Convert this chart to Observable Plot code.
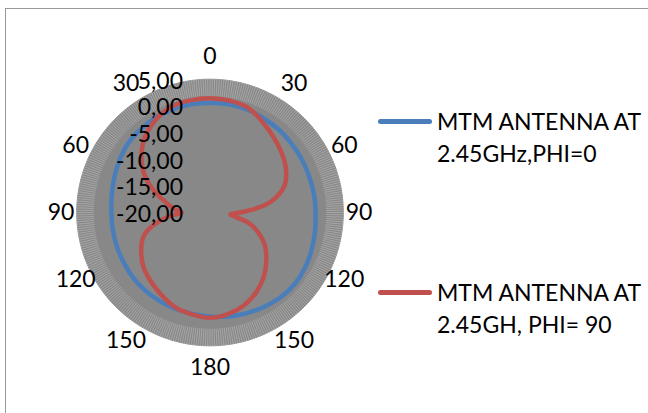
<!DOCTYPE html>
<html>
<head>
<meta charset="utf-8">
<script src="https://cdn.jsdelivr.net/npm/d3@7"></script>
<script src="https://cdn.jsdelivr.net/npm/@observablehq/plot@0.6"></script>
<style>
  html, body { margin: 0; padding: 0; background: #fff; }
  #wrap { position: relative; width: 648px; height: 413px; overflow: hidden; font-family: Lato, "Open Sans", sans-serif; }
  #frame { position: absolute; left: 5px; top: 8px; width: 700px; height: 500px; border: 1px solid #999; }
  #chart { position: absolute; left: 0; top: 0; }
  .leg { position: absolute; left: 378px; font-size: 23px; color: #000; }
  .leg .sw { position: absolute; left: 0; width: 54px; height: 5px; border-radius: 3px; }
  .leg .tx { position: absolute; left: 59px; line-height: 32px; white-space: nowrap; }
</style>
</head>
<body>
<div id="wrap">
  <div id="frame"></div>
  <div id="chart"></div>
  <div id="legend"></div>
</div>
<script>
// ---- data ----
const seriesNames = ["MTM ANTENNA AT\n2.45GHz,PHI=0", "MTM ANTENNA AT\n2.45GH, PHI= 90"];
const seriesColors = ["#4A7EBB", "#C0504D"];

const blueAngles = [0,10,20,30,40,50,60,70,80,90,100,110,120,130,140,150,160,170,180,190,200,210,220,230,240,250,260,270,280,290,300,310,320,330,340,350];
const blueDb = [0.6,0.6,0.5,0.3,0.2,0.0,-0.1,-0.2,-0.2,-0.2,0.0,0.3,0.6,0.8,0.7,0.4,0.1,-0.2,-0.5,-0.7,-0.8,-0.9,-1.0,-1.1,-1.3,-1.4,-1.5,-1.5,-1.3,-0.9,-0.4,0.1,0.3,0.5,0.6,0.6];

const redAngles = [0,10,20,30,40,50,60,70,80,85,90,95,100,105,110,120,130,140,150,160,170,180,190,200,210,220,230,240,250,255,260,265,270,275,280,285,290,300,310,320,330,340,350];
const redDb = [1.45,1.3,0.9,-0.35,-1.5,-2.5,-3.55,-5.1,-8.4,-11.4,-14.3,-16.2,-15.0,-12.6,-10.9,-8.2,-6.2,-4.3,-2.7,-1.45,-0.65,-0.25,-0.6,-1.05,-2.0,-2.9,-3.8,-5.1,-6.7,-8.2,-10.2,-12.5,-14.7,-13.4,-12.2,-10.9,-9.1,-5.8,-3.2,-1.2,0.22,1.1,1.35];

const radialTicks = [5, 0, -5, -10, -15, -20];
const angleTickAngles = [0,30,60,90,120,150,180,210,240,270,300,330];
const angleTickLabels = ["0","30","60","90","120","150","180","150","120","90","60","30"];

// ---- geometry helpers ----
const rMin = -20, rMax = 5;
const U = rMax - rMin; // outer radius in units
const rad = a => a * Math.PI / 180;
const px = (a, db) => (db - rMin) * Math.sin(rad(a));
const py = (a, db) => (db - rMin) * Math.cos(rad(a));

const blue = blueAngles.map((a, i) => ({a, db: blueDb[i]}));
const red = redAngles.map((a, i) => ({a, db: redDb[i]}));
const rim = d3.range(0, 360, 1).map(a => ({a, db: rMax}));
const spokes = d3.range(0, 360, 1).map(a => ({a}));
const angTicks = angleTickAngles.map((a, i) => ({a, label: angleTickLabels[i]}));

const cx = 209.5, cy = 212, R = 133.3;
// label placement (Excel-like: labels sit just outside the rim)
const shift = a => a + 5 * Math.sin(rad(2 * a));
const labelX = a => 149 / R * U * Math.sin(rad(shift(a)));
const labelY = a => 155.5 / R * U * Math.cos(rad(shift(a)));

const fmt = v => v.toFixed(2).replace(".", ",");

const plot = Plot.plot({
  width: 648,
  height: 413,
  margin: 0,
  x: {type: "linear", domain: [-U, U], range: [cx - R, cx + R], axis: null},
  y: {type: "linear", domain: [-U, U], range: [cy + R, cy - R], axis: null},
  style: {fontFamily: "Lato, 'Open Sans', sans-serif", fontSize: "23px", color: "#000", background: "transparent"},
  marks: [
    Plot.line(rim, {x: d => px(d.a, d.db), y: d => py(d.a, d.db), curve: "linear-closed", fill: "#888888", stroke: "#8f8f8f", strokeWidth: 1}),
    Plot.link(spokes, {
      x1: d => px(d.a, 1.8), y1: d => py(d.a, 1.8),
      x2: d => px(d.a, rMax), y2: d => py(d.a, rMax),
      stroke: "#ffffff", strokeOpacity: 0.36, strokeWidth: 0.7
    }),
    Plot.line(blue, {x: d => px(d.a, d.db), y: d => py(d.a, d.db), curve: "catmull-rom-closed", stroke: seriesColors[0], strokeWidth: 4.5}),
    Plot.line(red, {x: d => px(d.a, d.db), y: d => py(d.a, d.db), curve: "catmull-rom-closed", stroke: seriesColors[1], strokeWidth: 4.5, strokeLinejoin: "round"}),
    Plot.text(radialTicks, {x: 0, y: d => d - rMin, text: d => fmt(d), textAnchor: "end", dx: -27, dy: 2, fill: "#000", fontSize: 23}),
    Plot.text(angTicks, {
      x: d => labelX(d.a),
      y: d => labelY(d.a),
      text: "label", textAnchor: "middle", fill: "#000", fontSize: 23
    })
  ]
});
document.getElementById("chart").appendChild(plot);

// ---- legend ----
const legTop = [121, 292];
const legend = document.getElementById("legend");
seriesNames.forEach((name, i) => {
  const g = document.createElement("div");
  g.className = "leg";
  g.style.top = (legTop[i]) + "px";
  const sw = document.createElement("div");
  sw.className = "sw";
  sw.style.background = seriesColors[i];
  sw.style.top = "-2.5px";
  const tx = document.createElement("div");
  tx.className = "tx";
  tx.style.top = "-16px";
  tx.innerHTML = name.split("\n").join("<br>");
  g.appendChild(sw);
  g.appendChild(tx);
  legend.appendChild(g);
});
</script>
</body>
</html>
